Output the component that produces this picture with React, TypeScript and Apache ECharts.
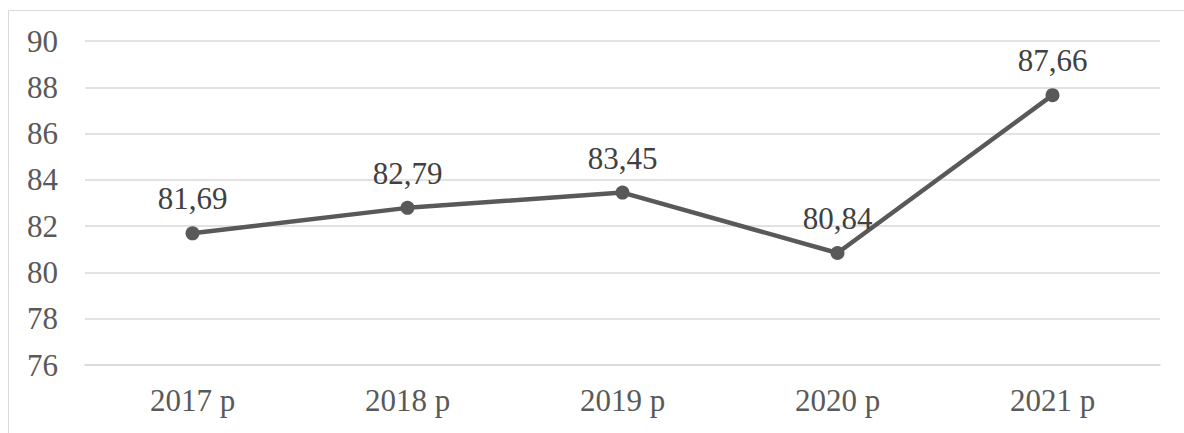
import React, { useEffect, useRef } from "react";
import * as echarts from "echarts";

const categories = ["2017 р", "2018 р", "2019 р", "2020 р", "2021 р"];
const values = [81.69, 82.79, 83.45, 80.84, 87.66];
const yMin = 76;
const yMax = 90;
const yStep = 2;

const FONT = "Liberation Serif";

export default function App() {
  const ref = useRef<HTMLDivElement>(null);
  useEffect(() => {
    if (!ref.current) return;
    const chart = echarts.init(ref.current, undefined, { renderer: "svg" });
    chart.setOption({
      animation: false,
      backgroundColor: "#ffffff",
      textStyle: { fontFamily: FONT },
      graphic: [
        {
          type: "rect",
          shape: { x: 8.5, y: 10.5, width: 1220, height: 460 },
          style: { fill: "none", stroke: "#d9d9d9", lineWidth: 1 },
          silent: true,
        },
      ],
      grid: { left: 85, right: 24, top: 41, bottom: 68 },
      xAxis: {
        type: "category",
        data: categories,
        boundaryGap: true,
        axisLine: { show: true, lineStyle: { color: "#d9d9d9", width: 1.5 } },
        axisTick: { show: false },
        axisLabel: { color: "#595959", fontSize: 31, fontFamily: FONT, margin: 20 },
      },
      yAxis: {
        type: "value",
        min: yMin,
        max: yMax,
        interval: yStep,
        axisLine: { show: false },
        axisTick: { show: false },
        axisLabel: { color: "#595959", fontSize: 31, fontFamily: FONT, margin: 27 },
        splitLine: { lineStyle: { color: "#d9d9d9", width: 1.5 } },
      },
      series: [
        {
          type: "line",
          data: values,
          symbol: "circle",
          symbolSize: 14,
          lineStyle: { color: "#595959", width: 4.5 },
          itemStyle: { color: "#595959" },
          label: {
            show: true,
            position: "top",
            distance: 12,
            color: "#404040",
            fontSize: 31,
            fontFamily: FONT,
            formatter: (p: any) => p.value.toFixed(2).replace(".", ","),
          },
        },
      ],
    });
    return () => chart.dispose();
  }, []);
  return (
    <div
      ref={ref}
      style={{ position: "fixed", left: 0, top: 0, width: 1184, height: 433, overflow: "hidden" }}
    />
  );
}
